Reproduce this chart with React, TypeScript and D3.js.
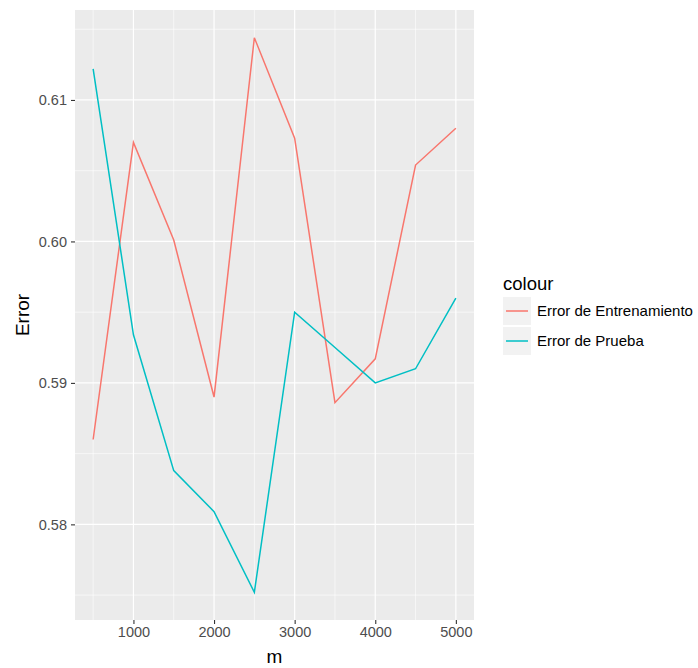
import { useEffect, useRef } from "react";
import * as d3 from "d3";

const mValues = [500, 1000, 1500, 2000, 2500, 3000, 3500, 4000, 4500, 5000];
const trainError = [0.586, 0.607, 0.6001, 0.589, 0.6144, 0.6073, 0.5886, 0.5917, 0.6054, 0.608];
const testError = [0.6122, 0.5934, 0.5838, 0.5809, 0.5752, 0.595, 0.5925, 0.59, 0.591, 0.596];
const seriesNames = ["Error de Entrenamiento", "Error de Prueba"];
const xTicks = [1000, 2000, 3000, 4000, 5000];
const xMinor = [500, 1500, 2500, 3500, 4500];
const yTicks = [0.58, 0.59, 0.6, 0.61];
const yMinor = [0.575, 0.585, 0.595, 0.605, 0.615];

const W = 698;
const H = 668;
const panel = { left: 75, top: 10, right: 474, bottom: 620 };
const FONT = "'Liberation Sans', Arial, Helvetica, sans-serif";

const App = () => {
  const svgRef = useRef(null);

  useEffect(() => {
    const svg = d3.select(svgRef.current);
    svg.selectAll("*").remove();

    const colours = d3.scaleOrdinal<string>().domain(seriesNames).range(["#F8766D", "#00BFC4"]);

    // ggplot style 5% expansion
    const xExt = d3.extent(mValues) as [number, number];
    const xPad = (xExt[1] - xExt[0]) * 0.05;
    const xScale = d3
      .scaleLinear()
      .domain([xExt[0] - xPad, xExt[1] + xPad])
      .range([panel.left, panel.right]);

    const yExt = d3.extent([...trainError, ...testError]) as [number, number];
    const yPad = (yExt[1] - yExt[0]) * 0.05;
    const yScale = d3
      .scaleLinear()
      .domain([yExt[0] - yPad, yExt[1] + yPad])
      .range([panel.bottom, panel.top]);

    // panel background
    svg
      .append("rect")
      .attr("x", panel.left)
      .attr("y", panel.top)
      .attr("width", panel.right - panel.left)
      .attr("height", panel.bottom - panel.top)
      .attr("fill", "#EBEBEB");

    const grid = svg.append("g");
    const hLines = (vals: number[], w: number) =>
      grid
        .append("g")
        .selectAll("line")
        .data(vals)
        .join("line")
        .attr("x1", panel.left)
        .attr("x2", panel.right)
        .attr("y1", (d) => yScale(d))
        .attr("y2", (d) => yScale(d))
        .attr("stroke", "#fff")
        .attr("stroke-width", w);
    const vLines = (vals: number[], w: number) =>
      grid
        .append("g")
        .selectAll("line")
        .data(vals)
        .join("line")
        .attr("y1", panel.top)
        .attr("y2", panel.bottom)
        .attr("x1", (d) => xScale(d))
        .attr("x2", (d) => xScale(d))
        .attr("stroke", "#fff")
        .attr("stroke-width", w);
    hLines(yMinor, 0.6);
    vLines(xMinor, 0.6);
    hLines(yTicks, 1.2);
    vLines(xTicks, 1.2);

    // lines
    const line = d3
      .line<number>()
      .x((d, i) => xScale(mValues[i]))
      .y((d) => yScale(d));

    svg
      .selectAll(".series")
      .data([trainError, testError])
      .join("path")
      .attr("d", (d) => line(d))
      .attr("fill", "none")
      .attr("stroke", (d, i) => colours(seriesNames[i]))
      .attr("stroke-width", 1.5);

    // axes
    const xAxis = d3
      .axisBottom(xScale)
      .tickValues(xTicks)
      .tickSize(4)
      .tickPadding(3)
      .tickFormat(d3.format("d"));
    const gx = svg
      .append("g")
      .attr("transform", `translate(0,${panel.bottom})`)
      .call(xAxis);
    const yAxis = d3
      .axisLeft(yScale)
      .tickValues(yTicks)
      .tickSize(4)
      .tickPadding(4)
      .tickFormat(d3.format(".2f"));
    const gy = svg
      .append("g")
      .attr("transform", `translate(${panel.left},0)`)
      .call(yAxis);

    [gx, gy].forEach((g) => {
      g.select(".domain").remove();
      g.selectAll(".tick line").attr("stroke", "#333").attr("stroke-width", 1.1);
      g.selectAll(".tick text")
        .attr("fill", "#4D4D4D")
        .style("font-family", FONT)
        .style("font-size", "14.5px");
    });

    // axis titles
    svg
      .append("text")
      .attr("x", (panel.left + panel.right) / 2)
      .attr("y", 663)
      .attr("text-anchor", "middle")
      .style("font-family", FONT)
      .style("font-size", "19px")
      .attr("fill", "#000")
      .text("m");
    svg
      .append("text")
      .attr("transform", `translate(29,${(panel.top + panel.bottom) / 2}) rotate(-90)`)
      .attr("text-anchor", "middle")
      .style("font-family", FONT)
      .style("font-size", "19px")
      .attr("fill", "#000")
      .text("Error");

    // legend
    const legend = svg.append("g").attr("transform", "translate(503,270)");
    legend
      .append("text")
      .attr("x", 0)
      .attr("y", 20)
      .style("font-family", FONT)
      .style("font-size", "18.5px")
      .attr("fill", "#000")
      .text("colour");
    const keys = legend
      .selectAll(".key")
      .data(seriesNames)
      .join("g")
      .attr("transform", (d, i) => `translate(0,${27 + i * 30})`);
    keys
      .append("rect")
      .attr("width", 28)
      .attr("height", 28)
      .attr("fill", "#F2F2F2");
    keys
      .append("line")
      .attr("x1", 3)
      .attr("x2", 25)
      .attr("y1", 14)
      .attr("y2", 14)
      .attr("stroke", (d) => colours(d))
      .attr("stroke-width", 1.5);
    keys
      .append("text")
      .attr("x", 34)
      .attr("y", 19)
      .style("font-family", FONT)
      .style("font-size", "15px")
      .attr("fill", "#000")
      .text((d) => d);
  }, []);

  return (
    <svg
      ref={svgRef}
      width={W}
      height={H}
      style={{ position: "absolute", left: 0, top: 0, background: "#fff" }}
    ></svg>
  );
};

export default App;
